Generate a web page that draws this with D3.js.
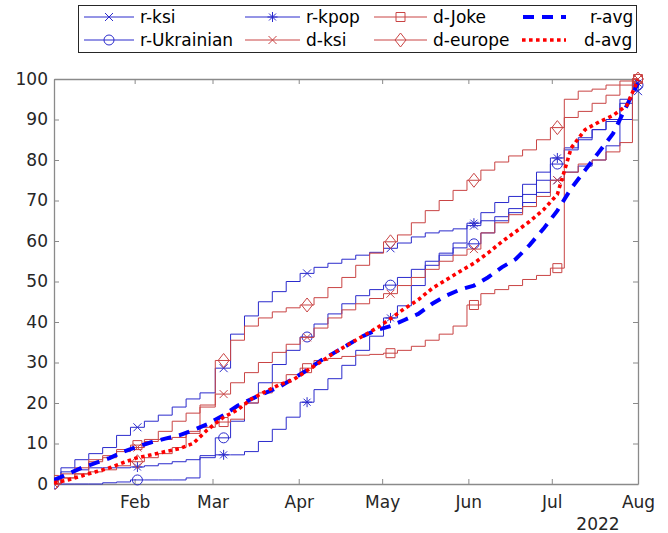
<!DOCTYPE html>
<html>
<head>
<meta charset="utf-8">
<script src="https://cdn.jsdelivr.net/npm/d3@7"></script>
<style>
body { margin: 0; background: #fff; }
</style>
</head>
<body>
<div id="chart"></div>
<script>
// sample dates (a point every ~5 days, Jan 3 to Aug 1 2022)
var dates = ["2022-01-03","2022-01-08","2022-01-13","2022-01-18","2022-01-23","2022-01-28","2022-02-02",
  "2022-02-07","2022-02-12","2022-02-17","2022-02-22","2022-02-27","2022-03-05",
  "2022-03-10","2022-03-15","2022-03-20","2022-03-25","2022-03-30","2022-04-04",
  "2022-04-09","2022-04-14","2022-04-19","2022-04-24","2022-04-29","2022-05-04",
  "2022-05-09","2022-05-14","2022-05-19","2022-05-24","2022-05-29","2022-06-03",
  "2022-06-08","2022-06-13","2022-06-18","2022-06-23","2022-06-28","2022-07-03",
  "2022-07-08","2022-07-13","2022-07-18","2022-07-23","2022-07-28","2022-08-01"];

var rKsi = [0,4,6,7.5,9,12,14, 15.5,17,19,21,22.5,28.6, 37,41.5,45,47.5,50,52,
  53.5,54.5,55.5,56.5,57.2,58.2, 59.5,61,62,62.5,63,63.8, 65,66,67,69.5,72,75, 77,78.5,80,83.5,90,97];
var rUkrainian = [0,0,0,0,0.3,0.5,1, 1,1,1,1.5,7,11.4, 15.5,20,25,29.5,33,36.3,
  39.5,42,44.5,46.5,48,49.1, 51,53,55,57,58.3,59.3, 62,65,68,71.5,75,79, 82.5,85,87.5,89.5,94,98.5];
var rKpop = [0,3,3.5,4,4,4,4.2, 4.5,5,5.5,6,6.5,7.2, 7.2,8,10.5,13.5,16.5,20.2,
  23.3,26,29.3,33,36.5,41, 44,49,54,56.5,59.5,64.4, 67,69.5,71,74,77,80.5, 83,85.5,87.5,90,95,99];
var dKsi = [0,2.5,4,5.5,6.5,8,9, 11,13,15.5,17.5,19.5,22.2, 25,27.5,30,32.5,34.5,36.2,
  38.5,41,43,44.5,45.8,47, 49,51,53,55,56.5,58, 62,64.5,66.5,68.5,71,75, 77,79,80,82,84.3,100];
var dJoke = [1,1.5,2.5,6,7,8.5,9.6, 10.5,11,11.5,12.5,14,15.3, 16,20,22.5,25,27,28.6,
  30.5,31,31.5,31.8,32,32.3, 33,34,35.5,37,39,44.2, 47,48,49,50.5,51.5,53.3, 95,97,97.5,98.5,99.5,100];
var dEurope = [0,1.5,2.5,3,3.5,4.5,5.5, 6.5,7.5,9,13,19,30.5, 35.5,39,41,42.5,43.5,44.2,
  46,48.5,51,54,57,59.8, 61.5,64.5,67.5,70,72.5,75, 77.5,79.5,81,82.5,85,88, 90.5,92,94,96,98.5,100];
var rAvg = [1,2.5,4,5.2,6.4,8,9.2, 10.3,11.2,12,13.3,14.7,17, 19.3,21,22.5,24,26,28.1,
  30.5,32.5,34.5,36.5,38,39, 40.5,42,44.5,46.5,48,49, 51,53.5,55.5,59,63,67.5, 73,77.5,82,86.5,93.5,99];
var dAvg = [0.3,1,2,3,4,5.3,6.5, 7.2,8,8.7,10,13.3,16.5, 18.3,21,22.8,24.5,25.7,28,
  30.2,32.5,34.5,36.5,38.5,40.8, 43.3,45.5,48.3,50.4,52.5,54.5, 57,59.8,62.3,64.8,67.7,71.5, 83,87.5,89.4,91,93.5,99.8];

// points that carry a marker
var markerIdx = [0,6,12,18,24,30,36,42];

var monthTicks = ["2022-02-01","2022-03-01","2022-04-01","2022-05-01","2022-06-01","2022-07-01","2022-08-01"];
var yTicks = [0,10,20,30,40,50,60,70,80,90,100];

var parse = d3.timeParse("%Y-%m-%d");
var blue = "#2b2bcc", red = "#c94444";

var series = [
  {name: "r-ksi", values: rKsi, color: blue, marker: "x"},
  {name: "r-Ukrainian", values: rUkrainian, color: blue, marker: "circle"},
  {name: "r-kpop", values: rKpop, color: blue, marker: "star"},
  {name: "d-ksi", values: dKsi, color: red, marker: "x"},
  {name: "d-Joke", values: dJoke, color: red, marker: "square"},
  {name: "d-europe", values: dEurope, color: red, marker: "diamond"},
  {name: "r-avg", values: rAvg, color: "#0000ff", avg: "dash"},
  {name: "d-avg", values: dAvg, color: "#ff0000", avg: "dot"}
];

var W = 668, H = 533;
var svg = d3.select("#chart").append("svg")
    .attr("width", W).attr("height", H)
    .style("font-family", "DejaVu Sans, sans-serif");

var x = d3.scaleTime().domain([parse(dates[0]), parse(dates[dates.length-1])]).range([54, 638]);
var y = d3.scaleLinear().domain([0, 100]).range([484, 79]);

var axisCol = "#8a8a8a", textCol = "#262626";

svg.append("defs").append("clipPath").attr("id", "clip")
  .append("rect").attr("x", 54).attr("y", 70).attr("width", 590).attr("height", 420);

// axes, ticks inside
var gx = svg.append("g").attr("transform", "translate(0,484)")
  .call(d3.axisBottom(x).tickValues(monthTicks.map(parse)).tickSize(-5).tickSizeOuter(0)
    .tickPadding(12).tickFormat(d3.timeFormat("%b")));
var gxt = svg.append("g").attr("transform", "translate(0,79)")
  .call(d3.axisTop(x).tickValues(monthTicks.map(parse)).tickSize(-5).tickSizeOuter(0).tickFormat(""));
var gy = svg.append("g").attr("transform", "translate(54,0)")
  .call(d3.axisLeft(y).tickValues(yTicks).tickSize(-5).tickSizeOuter(0).tickPadding(6));
var gyr = svg.append("g").attr("transform", "translate(638,0)")
  .call(d3.axisRight(y).tickValues(yTicks).tickSize(-5).tickSizeOuter(0).tickFormat(""));

[gx, gxt, gy, gyr].forEach(function(g) {
  g.selectAll(".domain").attr("stroke", axisCol).attr("stroke-width", 1.3);
  g.selectAll(".tick line").attr("stroke", axisCol);
  g.selectAll("text").attr("fill", textCol).style("font-size", "17px").style("font-family", "DejaVu Sans, sans-serif");
});

svg.append("text").attr("x", 598).attr("y", 530).attr("text-anchor", "middle")
  .attr("fill", textCol).style("font-size", "17px").text("2022");

function markerPath(type) {
  switch (type) {
    case "x": return "M-4,-4L4,4M-4,4L4,-4";
    case "star": return "M-5,0L5,0M0,-5L0,5M-3.5,-3.5L3.5,3.5M-3.5,3.5L3.5,-3.5";
    case "circle": return d3.arc()({innerRadius: 0, outerRadius: 5, startAngle: 0, endAngle: 2 * Math.PI});
    case "square": return "M-4.5,-4.5H4.5V4.5H-4.5Z";
    case "diamond": return "M0,-7L5.5,0L0,7L-5.5,0Z";
  }
}

var plot = svg.append("g").attr("clip-path", "url(#clip)");

series.forEach(function(s) {
  var pts = s.values.map(function(v, i) { return [parse(dates[i]), v]; });
  var line = d3.line()
    .x(function(d) { return x(d[0]); })
    .y(function(d) { return y(d[1]); })
    .curve(s.avg ? d3.curveLinear : d3.curveStep);
  var p = plot.append("path").datum(pts)
    .attr("d", line)
    .attr("fill", "none")
    .attr("stroke", s.color);
  if (s.avg === "dash") {
    p.attr("stroke-width", 4).attr("stroke-dasharray", "11,8");
  } else if (s.avg === "dot") {
    p.attr("stroke-width", 3.6).attr("stroke-dasharray", "3.6,3.4");
  } else {
    p.attr("stroke-width", 1);
    plot.selectAll(null).data(markerIdx).enter().append("path")
      .attr("transform", function(i) { return "translate(" + x(pts[i][0]) + "," + y(pts[i][1]) + ")"; })
      .attr("d", markerPath(s.marker))
      .attr("fill", "none")
      .attr("stroke", s.color)
      .attr("stroke-width", 1);
  }
});

// legend, 4 columns x 2 rows
var legend = svg.append("g");
legend.append("rect").attr("x", 78.5).attr("y", 5.5).attr("width", 558).attr("height", 47)
  .attr("fill", "#fff").attr("stroke", "#262626").attr("stroke-width", 1);

var colX = [84, 245, 374, 522];
var colW = [50, 55, 53, 44];
var textX = [140, 306, 433, 590];
var rowY = [17, 40];

series.forEach(function(s, i) {
  var c = Math.floor(i / 2), r = i % 2;
  var g = legend.append("g");
  var ln = g.append("line")
    .attr("x1", colX[c]).attr("x2", colX[c] + colW[c])
    .attr("y1", rowY[r]).attr("y2", rowY[r])
    .attr("stroke", s.color);
  if (s.avg === "dash") {
    ln.attr("stroke-width", 4).attr("stroke-dasharray", "11,8").attr("x1", colX[c] + 1);
  } else if (s.avg === "dot") {
    ln.attr("stroke-width", 3.6).attr("stroke-dasharray", "3.6,3.4");
  } else {
    ln.attr("stroke-width", 1);
    g.append("path")
      .attr("transform", "translate(" + (colX[c] + colW[c] / 2) + "," + rowY[r] + ")")
      .attr("d", markerPath(s.marker))
      .attr("fill", "none").attr("stroke", s.color);
  }
  g.append("text")
    .attr("x", s.name === "d-avg" ? textX[c] - 6 : textX[c])
    .attr("y", rowY[r]).attr("dy", "0.35em")
    .attr("fill", "#000").style("font-size", "17px")
    .text(s.name);
});
</script>
</body>
</html>
